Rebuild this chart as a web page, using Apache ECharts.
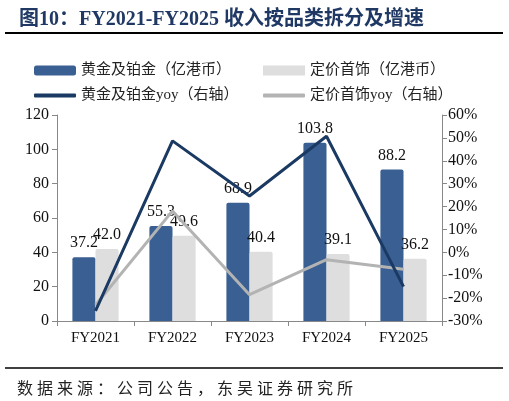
<!DOCTYPE html>
<html>
<head>
<meta charset="utf-8">
<script src="https://cdn.jsdelivr.net/npm/echarts@6/dist/echarts.min.js"></script>
<style>
  html, body { margin: 0; padding: 0; background: #fff; }
  #wrap { position: relative; width: 509px; height: 401px; }
  #chart { width: 509px; height: 401px; }
  #source {
    position: absolute; left: 17px; top: 375px;
    font: 16px 'Noto Sans CJK SC', sans-serif; letter-spacing: 4px;
    color: #222; white-space: nowrap;
  }
</style>
</head>
<body>
<div id="wrap">
  <div id="chart"></div>
  <div id="source">数据来源：公司公告，东吴证券研究所</div>
</div>
<script>
const categories = ["FY2021", "FY2022", "FY2023", "FY2024", "FY2025"];
const goldRevenue = [37.2, 55.3, 68.9, 103.8, 88.2];
const fixedRevenue = [42.0, 49.6, 40.4, 39.1, 36.2];
const goldYoy = [-25.6, 48.7, 24.6, 50.7, -15.0];
const fixedYoy = [-23.0, 18.1, -18.5, -3.2, -7.4];

const serif = "'Liberation Serif', 'Times New Roman', 'Noto Sans CJK SC', serif";

const chart = echarts.init(document.getElementById("chart"));

const barLabel = {
  show: true,
  position: "top",
  distance: 6,
  fontFamily: serif,
  fontSize: 16,
  color: "#111",
  formatter: (p) => p.value.toFixed(1),
};

// one legend per item so the two columns line up like the original
function legendItem(name, left, top, height, icon) {
  return {
    left: left,
    top: top,
    itemWidth: 42,
    itemHeight: height,
    textStyle: { fontFamily: serif, fontSize: 15, color: "#222" },
    data: [{ name: name, icon: icon }],
  };
}

chart.setOption({
  animation: false,
  title: {
    text: "图10：FY2021-FY2025 收入按品类拆分及增速",
    left: 14,
    top: 5,
    textStyle: {
      fontFamily: serif,
      fontWeight: "bold",
      fontSize: 20,
      color: "#1f3864",
    },
  },
  graphic: [
    {
      type: "line",
      shape: { x1: 5, y1: 33, x2: 503, y2: 33 },
      style: { stroke: "#000", lineWidth: 2 },
    },
    {
      type: "line",
      shape: { x1: 5, y1: 368, x2: 503, y2: 368 },
      style: { stroke: "#000", lineWidth: 1.5 },
    },
  ],
  legend: [
    legendItem("黄金及铂金（亿港币）", 29, 58, 10, "roundRect"),
    legendItem("定价首饰（亿港币）", 258, 58, 10, "rect"),
    legendItem("黄金及铂金yoy（右轴）", 29, 83, 4, "roundRect"),
    legendItem("定价首饰yoy（右轴）", 258, 83, 4, "roundRect"),
  ],
  grid: {
    left: 57,
    right: 67,
    top: 115,
    bottom: 80,
  },
  xAxis: {
    type: "category",
    data: categories,
    axisLine: { lineStyle: { color: "#888" } },
    axisTick: { show: true, lineStyle: { color: "#888" } },
    axisLabel: { fontFamily: serif, fontSize: 15, color: "#111", margin: 10 },
  },
  yAxis: [
    {
      type: "value",
      min: 0,
      max: 120,
      interval: 20,
      axisLine: { show: true, lineStyle: { color: "#888" } },
      axisTick: { show: true, length: 5, lineStyle: { color: "#888" } },
      splitLine: { show: false },
      axisLabel: { fontFamily: serif, fontSize: 16, color: "#111", margin: 8 },
    },
    {
      type: "value",
      min: -30,
      max: 60,
      interval: 10,
      axisLine: { show: true, lineStyle: { color: "#888" } },
      axisTick: { show: true, length: 5, lineStyle: { color: "#888" } },
      splitLine: { show: false },
      axisLabel: {
        fontFamily: serif,
        fontSize: 16,
        color: "#111",
        margin: 6,
        formatter: "{value}%",
      },
    },
  ],
  series: [
    {
      name: "黄金及铂金（亿港币）",
      type: "bar",
      data: goldRevenue,
      barWidth: "30%",
      barGap: "0%",
      itemStyle: { color: "#3a5f92", borderRadius: [2, 2, 0, 0] },
      label: barLabel,
    },
    {
      name: "定价首饰（亿港币）",
      type: "bar",
      data: fixedRevenue,
      barWidth: "30%",
      itemStyle: { color: "#dedede", borderRadius: [2, 2, 0, 0] },
      label: barLabel,
    },
    {
      name: "黄金及铂金yoy（右轴）",
      type: "line",
      yAxisIndex: 1,
      data: goldYoy,
      symbol: "none",
      lineStyle: { color: "#1b3a63", width: 3 },
      itemStyle: { color: "#1b3a63" },
      z: 5,
    },
    {
      name: "定价首饰yoy（右轴）",
      type: "line",
      yAxisIndex: 1,
      data: fixedYoy,
      symbol: "none",
      lineStyle: { color: "#b3b3b3", width: 3 },
      itemStyle: { color: "#b3b3b3" },
      z: 4,
    },
  ],
});
</script>
</body>
</html>
